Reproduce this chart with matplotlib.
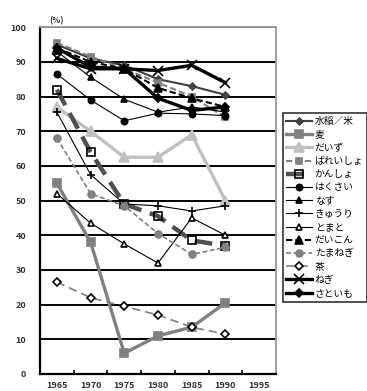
import numpy as np
import matplotlib
matplotlib.use('Agg')
import matplotlib.pyplot as plt

plt.rcParams['font.family'] = ['Noto Sans CJK JP', 'DejaVu Sans']

years = ['1965', '1970', '1975', '1980', '1985', '1990', '1995']

names = ['水稲／米', '麦', 'だいず', 'ばれいしょ', 'かんしょ', 'はくさい', 'なす',
         'きゅうり', 'とまと', 'だいこん', 'たまねぎ', '茶', 'ねぎ', 'さといも']

suito = [95, 91, 89, 85, 83, 80.5]
mugi = [55, 38, 6, 11, 13.5, 20.5]
daizu = [77, 70, 62.5, 62.5, 69, 50]
bareisho = [95.5, 91.5, 88, 84, 80, 74]
kansho = [82, 64, 49, 45.5, 38.5, 37]
hakusai = [86.5, 79, 73, 75.2, 75, 74.5]
nasu = [93, 85.6, 79.2, 75.5, 77, 75.5]
kyuri = [75.5, 57.5, 49, 48.5, 47, 48.5]
tomato = [52, 43.5, 37.5, 32, 45, 40]
daikon = [94, 90, 88, 82.5, 79.5, 77]
tamanegi = [68, 52, 48.5, 40.5, 34.5, 36.5]
cha = [26.5, 22, 19.5, 17, 13.5, 11.5]
negi = [91, 88, 88, 87.5, 89, 84]
satoimo = [94, 88.5, 88, 79.5, 76, 77]

series = [suito, mugi, daizu, bareisho, kansho, hakusai, nasu,
          kyuri, tomato, daikon, tamanegi, cha, negi, satoimo]

# color, linestyle, linewidth, marker, markersize, marker face, marker edge
styles = [
    ('#404040', '-', 1.5, 'D', 3.5, '#404040', '#404040'),
    ('#808080', '-', 2.4, 's', 6, '#808080', '#808080'),
    ('#c0c0c0', '-', 2.4, '^', 7, '#c0c0c0', '#c0c0c0'),
    ('#808080', (0, (3, 1.5)), 1.5, 's', 5, '#808080', '#808080'),
    ('#505050', (0, (4, 2)), 3.2, 's', 6, 'none', 'black'),
    ('black', '-', 0.8, 'o', 4.5, 'black', 'black'),
    ('black', '-', 0.8, '^', 5, 'black', 'black'),
    ('black', '-', 0.8, '+', 6, 'black', 'black'),
    ('black', '-', 0.8, '^', 5, 'white', 'black'),
    ('black', (0, (3, 1.5)), 1.5, '^', 6, 'black', 'black'),
    ('#808080', (0, (3, 1.5)), 1.2, 'o', 5, '#808080', '#808080'),
    ('#808080', (0, (5, 3)), 1.2, 'D', 4.5, 'white', 'black'),
    ('black', '-', 2.4, 'x', 7, 'black', 'black'),
    ('black', '-', 2.4, 'D', 4.5, 'black', 'black'),
]

fig = plt.figure(figsize=(3.67, 3.91), dpi=100)
ax = fig.add_axes([0.109, 0.0435, 0.643, 0.887])

x = np.arange(len(years))
for name, vals, st in zip(names, series, styles):
    c, ls, lw, m, ms, mfc, mec = st
    ax.plot(x[:len(vals)], vals, color=c, linestyle=ls, linewidth=lw,
            marker=m, markersize=ms, markerfacecolor=mfc, markeredgecolor=mec,
            markeredgewidth=1.2, label=name)

ax.set_xlim(-0.5, 6.5)
ax.set_ylim(0, 100)
ax.set_yticks(np.arange(0, 101, 10))
ax.set_xticks(x)
ax.set_xticklabels(years)
ax.set_xticks(np.arange(0.5, 6.5, 1), minor=True)
ax.tick_params(axis='x', which='major', length=0, pad=5, labelsize=6.5)
ax.tick_params(axis='x', which='minor', length=3, direction='in', width=1.2)
ax.tick_params(axis='y', length=0, pad=10, labelsize=6.5)
for lab in ax.get_xticklabels() + ax.get_yticklabels():
    lab.set_fontweight('bold')
    lab.set_color('#333333')

ax.grid(axis='y', color='black', linewidth=1.4)
ax.set_axisbelow(True)
ax.spines['left'].set_linewidth(1.6)
ax.spines['bottom'].set_linewidth(1.6)
ax.spines['top'].set_color('#999999')
ax.spines['right'].set_color('#999999')
ax.spines['top'].set_linewidth(1.3)
ax.spines['right'].set_linewidth(1.3)

fig.text(0.135, 0.94, '(%)', fontsize=6, fontweight='bold', color='#333333')

leg = fig.legend(loc='upper left', bbox_to_anchor=(0.771, 0.711), fontsize=7,
                 frameon=True, fancybox=False, edgecolor='black',
                 handlelength=2.6, labelspacing=0.33, borderpad=0.35,
                 handletextpad=0.3, borderaxespad=0)
leg.get_frame().set_linewidth(1.2)
# the frame runs past the right edge of the picture in the original
fr = leg.get_frame()
fig.canvas.draw()
fr.set_width(fr.get_width() + 20)

fig.savefig('out.png', dpi=100)
